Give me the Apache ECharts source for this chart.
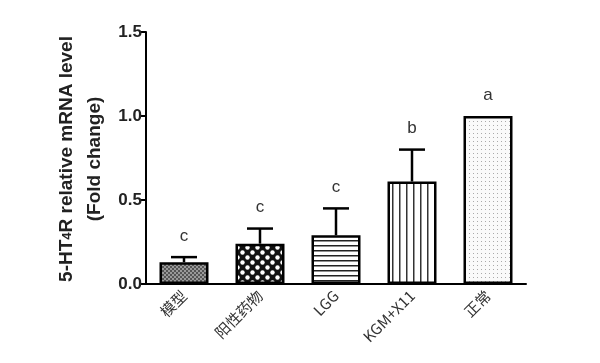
<!DOCTYPE html>
<html><head><meta charset="utf-8">
<script src="https://cdn.jsdelivr.net/npm/echarts@6/dist/echarts.min.js"></script>
<style>html,body{margin:0;padding:0;background:#fff}#c{width:600px;height:363px}</style>
</head><body><div id="c"></div>
<script>
const categories = ['模型', '阳性药物', 'LGG', 'KGM+X11', '正常'];
const means = [0.13, 0.24, 0.29, 0.61, 1.00];
const errors = [0.03, 0.09, 0.16, 0.19, 0.0];
const letters = ['c', 'c', 'c', 'b', 'a'];
const yTicks = [0, 0.5, 1.0, 1.5];

function tile(w, h, draw) {
  const c = document.createElement('canvas'); c.width = w; c.height = h;
  const g = c.getContext('2d'); draw(g); return c;
}
const patterns = [
  tile(4, 4, g => { g.fillStyle = '#9a9a9a'; g.fillRect(0,0,4,4); g.fillStyle = '#555'; g.fillRect(0,0,2,2); g.fillRect(2,2,2,2); }),
  tile(10, 10, g => { g.fillStyle = '#111'; g.fillRect(0,0,10,10); g.fillStyle = '#fff';
    g.beginPath(); g.arc(2.5,2.5,2.2,0,Math.PI*2); g.fill(); g.beginPath(); g.arc(7.5,7.5,2.2,0,Math.PI*2); g.fill(); }),
  tile(6, 5, g => { g.fillStyle = '#fff'; g.fillRect(0,0,6,5); g.fillStyle = '#222'; g.fillRect(0,0,6,1.5); }),
  tile(7, 6, g => { g.fillStyle = '#fff'; g.fillRect(0,0,7,6); g.fillStyle = '#333'; g.fillRect(0,0,1.5,6); }),
  tile(4, 4, g => { g.fillStyle = '#fafafa'; g.fillRect(0,0,4,4); g.fillStyle = '#aaa'; g.fillRect(1,1,1,1); })
];

const chart = echarts.init(document.getElementById('c'));
chart.setOption({
  animation: false,
  backgroundColor: '#fff',
  grid: { left: 146, right: 74, top: 32, bottom: 79 },
  xAxis: {
    type: 'category', data: categories,
    axisLine: { lineStyle: { color: '#000', width: 2 } },
    axisTick: { alignWithLabel: true, length: 5, lineStyle: { color: '#000', width: 1.5 } },
    axisLabel: { rotate: 45, margin: 9, color: '#333', fontSize: 15, fontFamily: 'Noto Sans CJK SC, serif' }
  },
  yAxis: {
    type: 'value', min: 0, max: 1.5, interval: 0.5,
    axisLine: { show: true, lineStyle: { color: '#000', width: 2 } },
    axisTick: { show: true, length: 5, lineStyle: { color: '#000', width: 2 } },
    splitLine: { show: false },
    axisLabel: { color: '#222', fontSize: 17, fontWeight: 'bold', fontFamily: 'Arial, Liberation Sans', margin: 4,
      formatter: v => v.toFixed(1) }
  },
  graphic: [
    { type: 'text', x: 67, y: 159, rotation: Math.PI/2, origin: [0,0],
      style: { text: '5-HT{s|4}R relative mRNA level', rich: { s: { fontSize: 13, fontWeight: 'bold', fill: '#222', fontFamily: 'Arial, Liberation Sans' } },
        fontSize: 19, fontWeight: 'bold', fontFamily: 'Arial, Liberation Sans', fill: '#222', align: 'center', verticalAlign: 'middle' } },
    { type: 'text', x: 95, y: 159, rotation: Math.PI/2, origin: [0,0],
      style: { text: '(Fold change)', fontSize: 19, fontWeight: 'bold', fontFamily: 'Arial, Liberation Sans', fill: '#222', align: 'center', verticalAlign: 'middle' } }
  ],
  series: [
    {
      type: 'bar', barWidth: 49,
      data: means.map((v, i) => ({ value: v, itemStyle: { color: { image: patterns[i], repeat: 'repeat' } } })),
      itemStyle: { borderColor: '#000', borderWidth: 2.5 }
    },
    {
      type: 'custom', z: 5,
      data: means.map((v, i) => [i, v, v + errors[i]]),
      renderItem: function (params, api) {
        const x = api.coord([api.value(0), api.value(1)])[0];
        const yb = api.coord([api.value(0), api.value(1)])[1];
        const yt = api.coord([api.value(0), api.value(2)])[1];
        const children = [];
        if (yb - yt > 0.5) {
          children.push({ type: 'line', shape: { x1: x, y1: yb, x2: x, y2: yt }, style: { stroke: '#000', lineWidth: 2.5 } });
          children.push({ type: 'line', shape: { x1: x - 13, y1: yt, x2: x + 13, y2: yt }, style: { stroke: '#000', lineWidth: 2.5 } });
        }
        children.push({ type: 'text', x: x, y: yt - 21,
          style: { text: letters[params.dataIndex], fontSize: 17, fontFamily: 'Arial, Liberation Sans', fill: '#333', align: 'center', verticalAlign: 'middle' } });
        return { type: 'group', children: children };
      }
    }
  ]
});
</script></body></html>
